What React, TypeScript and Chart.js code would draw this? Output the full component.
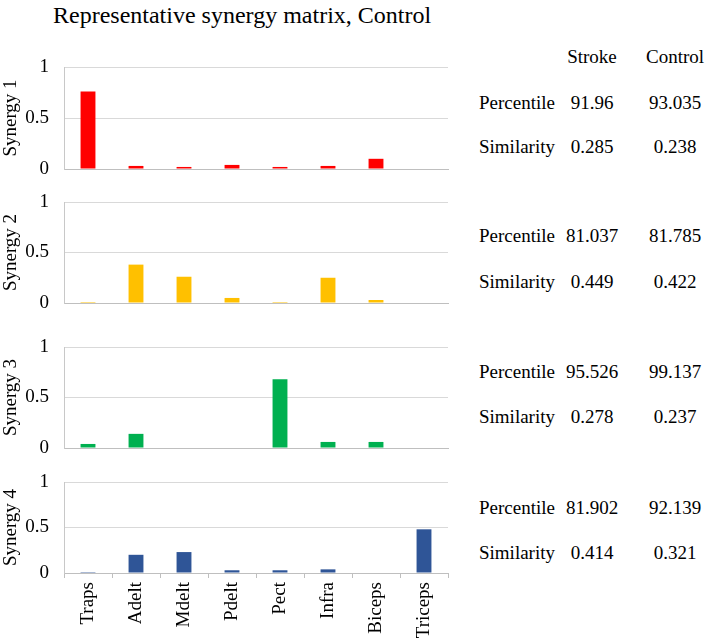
import React, { useEffect, useRef } from "react";
import { Chart, registerables } from "chart.js";

Chart.register(...registerables);

// ---------- data ----------
const muscles = ["Traps", "Adelt", "Mdelt", "Pdelt", "Pect", "Infra", "Biceps", "Triceps"];
const synergy1 = [0.76, 0.03, 0.02, 0.04, 0.02, 0.03, 0.1, 0.005];
const synergy2 = [0.01, 0.38, 0.26, 0.05, 0.01, 0.25, 0.03, 0.005];
const synergy3 = [0.04, 0.14, 0.005, 0.005, 0.68, 0.06, 0.06, 0.005];
const synergy4 = [0.01, 0.2, 0.23, 0.03, 0.03, 0.04, 0, 0.48];
const synergyNames = ["Synergy 1", "Synergy 2", "Synergy 3", "Synergy 4"];
const synergyValues = [synergy1, synergy2, synergy3, synergy4];
const synergyColors = ["#FF0000", "#FFC000", "#00B050", "#2F5597"];
const yTickValues = [0, 0.5, 1];
const yTickLabels = ["0", "0.5", "1"];

const titleText = "Representative synergy matrix, Control";
const tableHeaders = ["Stroke", "Control"];
const rowLabels = ["Percentile", "Similarity"];
const percentileStroke = ["91.96", "81.037", "95.526", "81.902"];
const percentileControl = ["93.035", "81.785", "99.137", "92.139"];
const similarityStroke = ["0.285", "0.449", "0.278", "0.414"];
const similarityControl = ["0.238", "0.422", "0.237", "0.321"];

// ---------- layout ----------
const FONT = "'Liberation Serif', 'Times New Roman', serif";
const plotTops = [67, 202, 347, 482];
const plotBottoms = [169, 303, 448, 573];
const percentileRowY = [102, 235, 371, 507];
const similarityRowY = [146, 281, 416, 552];
const headerY = 56;
const rowLabelX = 479;
const colCenters = [592, 675];
const PAD = 12;
const CANVAS_W = 460;
const X_LABEL_H = 71;

function Panel(props: {
  values: number[];
  color: string;
  name: string;
  top: number;
  bottom: number;
  showLabels: boolean;
}) {
  const { values, color, name, top, bottom, showLabels } = props;
  const ref = useRef<HTMLCanvasElement>(null);
  const h = (bottom - top) + PAD + (showLabels ? X_LABEL_H : PAD);

  useEffect(() => {
    const font = { family: FONT, size: 19 };
    const chart = new Chart(ref.current as HTMLCanvasElement, {
      type: "bar",
      data: {
        labels: muscles,
        datasets: [
          {
            data: values,
            backgroundColor: color,
            borderWidth: 0,
            barPercentage: 0.31,
            categoryPercentage: 1,
          },
        ],
      },
      options: {
        animation: false,
        responsive: false,
        maintainAspectRatio: false,
        layout: { padding: { left: 0, right: 12, top: PAD, bottom: showLabels ? 0 : PAD } },
        plugins: { legend: { display: false }, tooltip: { enabled: false } },
        scales: {
          x: {
            grid: {
              display: showLabels,
              drawOnChartArea: false,
              drawTicks: true,
              tickLength: 5,
              color: "#bfbfbf",
              offset: true,
            },
            border: { display: true, color: "#bfbfbf" },
            ticks: {
              display: showLabels,
              minRotation: 90,
              maxRotation: 90,
              autoSkip: false,
              padding: 4,
              font,
              color: "#000",
            },
            afterFit: (s: any) => {
              s.height = showLabels ? X_LABEL_H : 0;
              s.paddingLeft = 0;
              s.paddingRight = 0;
              s.paddingTop = 0;
              s.paddingBottom = 0;
            },
          },
          y: {
            min: 0,
            max: 1,
            afterBuildTicks: (s: any) => {
              s.ticks = yTickValues.map((v) => ({ value: v }));
            },
            ticks: {
              padding: 15,
              font,
              color: "#000",
              callback: (v: any) => yTickLabels[yTickValues.indexOf(Number(v))] ?? String(v),
            },
            grid: { color: "#d9d9d9", drawTicks: false },
            border: { display: true, color: "#c8c8c8" },
            title: { display: true, text: name, font, color: "#000", padding: 0 },
            afterFit: (s: any) => {
              s.width = 64;
              s.paddingTop = 0;
              s.paddingBottom = 0;
              s.paddingLeft = 0;
              s.paddingRight = 0;
            },
          },
        },
      },
    } as any);
    return () => chart.destroy();
  }, []);

  return (
    <canvas
      ref={ref}
      width={CANVAS_W}
      height={h}
      style={{ position: "absolute", left: 0, top: top - PAD, width: CANVAS_W, height: h }}
    />
  );
}

function Txt(props: { x: number; y: number; text: string; align?: "left" | "center"; size?: number }) {
  const { x, y, text, align = "left", size = 19 } = props;
  return (
    <div
      style={{
        position: "absolute",
        left: x,
        top: y,
        transform: align === "center" ? "translate(-50%, -50%)" : "translate(0, -50%)",
        fontFamily: FONT,
        fontSize: size,
        lineHeight: 1,
        color: "#000",
        whiteSpace: "nowrap",
      }}
    >
      {text}
    </div>
  );
}

export default function App() {
  return (
    <div style={{ position: "absolute", left: 0, top: 0, width: 709, height: 644, background: "#fff", overflow: "hidden" }}>
      <Txt x={53} y={15} text={titleText} size={24} />
      {synergyNames.map((n, i) => (
        <Panel
          key={n}
          values={synergyValues[i]}
          color={synergyColors[i]}
          name={n}
          top={plotTops[i]}
          bottom={plotBottoms[i]}
          showLabels={i === synergyNames.length - 1}
        />
      ))}
      {tableHeaders.map((t, j) => (
        <Txt key={t} x={colCenters[j]} y={headerY} text={t} align="center" />
      ))}
      {synergyNames.map((n, i) => (
        <React.Fragment key={"row" + n}>
          <Txt x={rowLabelX} y={percentileRowY[i]} text={rowLabels[0]} />
          <Txt x={colCenters[0]} y={percentileRowY[i]} text={percentileStroke[i]} align="center" />
          <Txt x={colCenters[1]} y={percentileRowY[i]} text={percentileControl[i]} align="center" />
          <Txt x={rowLabelX} y={similarityRowY[i]} text={rowLabels[1]} />
          <Txt x={colCenters[0]} y={similarityRowY[i]} text={similarityStroke[i]} align="center" />
          <Txt x={colCenters[1]} y={similarityRowY[i]} text={similarityControl[i]} align="center" />
        </React.Fragment>
      ))}
    </div>
  );
}
